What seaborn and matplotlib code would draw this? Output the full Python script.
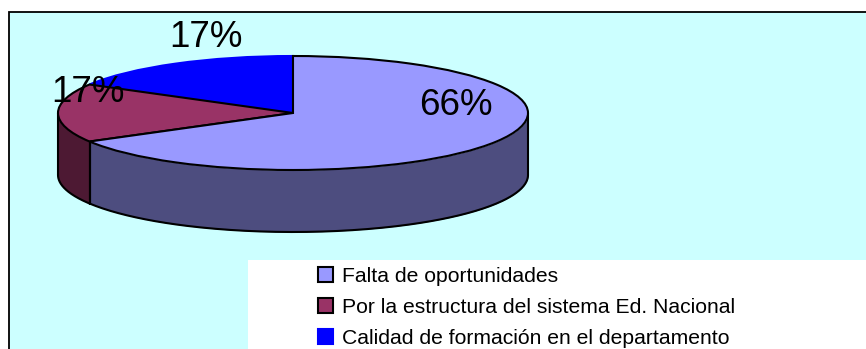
import numpy as np
import matplotlib
matplotlib.use("Agg")
import matplotlib.pyplot as plt
from matplotlib.patches import Rectangle
from matplotlib.transforms import Affine2D
import seaborn as sns

categories = ["Calidad de formación en el departamento",
              "Por la estructura del sistema Ed. Nacional",
              "Falta de oportunidades"]
values = [16.67, 16.67, 66.66]
pct_labels = ["17%", "17%", "66%"]
top_colors = ["#0000FF", "#993366", "#9999FF"]
side_colors = ["#00007F", "#4D1933", "#4D4D7F"]
edge_colors = ["#0000FF", "black", "black"]
legend_order = [2, 1, 0]

sns.set_theme(style="white")
plt.rcParams["font.family"] = ["Liberation Sans", "DejaVu Sans"]

W, H = 866, 349
fig = plt.figure(figsize=(W / 100, H / 100), dpi=100, facecolor="white")
ax = fig.add_axes([0, 0, 1, 1])

CX, CY = 293, H - 113
RX, RY, DEPTH = 235, 57, 62
LW = 1.5

ax.add_patch(Rectangle((8.5, -10), W + 20, H - 11 + 10 - 0.5, fc="#CCFFFF", ec="black", lw=1.3, zorder=0))

wedges, _ = ax.pie(values, colors=top_colors, startangle=90, counterclock=True,
                   center=(CX, CY), radius=1, frame=True,
                   wedgeprops=dict(linewidth=LW, zorder=4))
ax.set_aspect("auto")
ax.set_xlim(0, W)
ax.set_ylim(0, H)
ax.axis("off")
for w, ec in zip(wedges, edge_colors):
    w.set_edgecolor(ec)
    w.set_transform(Affine2D().translate(-CX, -CY).scale(RX, RY).translate(CX, CY) + ax.transData)

# side wall, from the same value-derived angles
edges = 90 + np.cumsum([0] + values) / sum(values) * 360
for i in range(len(values)):
    a0, a1 = max(edges[i], 180), min(edges[i + 1], 360)
    if a1 <= a0:
        continue
    th = np.radians(np.linspace(a0, a1, 200))
    x = CX + RX * np.cos(th)
    y = CY + RY * np.sin(th)
    ax.fill_between(x, y - DEPTH, y, color=side_colors[i], lw=0, zorder=2)
    ax.plot(x, y - DEPTH, color="black", lw=LW, zorder=3)
    for xe, ye in [(x[0], y[0]), (x[-1], y[-1])]:
        ax.plot([xe, xe], [ye - DEPTH, ye], color="black", lw=LW, zorder=3)

label_pos = [(205.5, 47), (88, 102), (455.5, 115)]
for s, (lx, ly) in zip(pct_labels, label_pos):
    ax.text(lx, H - ly, s, fontsize=26.5, ha="center", va="baseline", color="black", zorder=6)

ax.add_patch(Rectangle((248, -5), W, H - 260 + 5, fc="white", ec="none", zorder=5))
leg = ax.legend([wedges[i] for i in legend_order], [categories[i] for i in legend_order],
                loc="upper left", bbox_to_anchor=(318 / W, 1 - 267 / H),
                frameon=False, fontsize=15.2, handlelength=0.72, handleheight=0.72,
                handletextpad=0.43, labelspacing=0.56, borderpad=0, borderaxespad=0,
                labelcolor="black")
leg.set_zorder(7)
fig.savefig("out.png", dpi=100)
